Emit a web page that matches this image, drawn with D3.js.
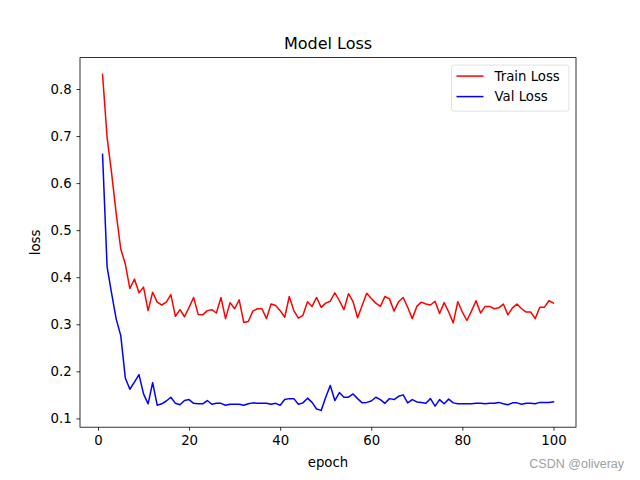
<!DOCTYPE html>
<html>
<head>
<meta charset="utf-8">
<script src="https://cdn.jsdelivr.net/npm/d3@7"></script>
<style>
  body { margin: 0; background: #fff; }
  text { font-family: "DejaVu Sans", sans-serif; }
</style>
</head>
<body>
<svg id="chart" width="640" height="480"></svg>
<script>
const trainLoss = [
  0.831, 0.697, 0.620, 0.535, 0.460, 0.428, 0.376, 0.396, 0.367, 0.379,
  0.329, 0.368, 0.347, 0.341, 0.347, 0.363, 0.317, 0.331, 0.316, 0.336,
  0.357, 0.321, 0.320, 0.329, 0.331, 0.324, 0.357, 0.312, 0.346, 0.333,
  0.352, 0.304, 0.306, 0.328, 0.333, 0.333, 0.312, 0.343, 0.340, 0.329,
  0.315, 0.359, 0.329, 0.313, 0.319, 0.348, 0.338, 0.357, 0.336, 0.345,
  0.349, 0.367, 0.350, 0.331, 0.365, 0.348, 0.314, 0.340, 0.366, 0.355,
  0.345, 0.338, 0.359, 0.354, 0.328, 0.348, 0.357, 0.336, 0.312, 0.338,
  0.347, 0.343, 0.341, 0.349, 0.323, 0.346, 0.326, 0.303, 0.348, 0.326,
  0.308, 0.328, 0.350, 0.324, 0.338, 0.338, 0.333, 0.335, 0.343, 0.320,
  0.335, 0.343, 0.333, 0.326, 0.326, 0.312, 0.336, 0.336, 0.350, 0.345
];
const valLoss = [
  0.661, 0.422, 0.365, 0.311, 0.276, 0.186, 0.162, 0.177, 0.193, 0.152,
  0.131, 0.176, 0.128, 0.131, 0.137, 0.145, 0.132, 0.129, 0.138, 0.140,
  0.132, 0.131, 0.131, 0.138, 0.130, 0.132, 0.132, 0.128, 0.130, 0.130,
  0.130, 0.128, 0.131, 0.133, 0.132, 0.132, 0.132, 0.130, 0.132, 0.128,
  0.140, 0.142, 0.142, 0.130, 0.133, 0.143, 0.134, 0.120, 0.117, 0.145,
  0.170, 0.138, 0.155, 0.145, 0.145, 0.152, 0.142, 0.133, 0.134, 0.137,
  0.145, 0.140, 0.132, 0.142, 0.140, 0.147, 0.150, 0.133, 0.140, 0.135,
  0.134, 0.132, 0.142, 0.126, 0.140, 0.131, 0.141, 0.133, 0.131, 0.131,
  0.131, 0.131, 0.132, 0.132, 0.131, 0.132, 0.132, 0.134, 0.131, 0.129,
  0.133, 0.133, 0.130, 0.132, 0.132, 0.131, 0.134, 0.134, 0.134, 0.135
];
const epochs = d3.range(1, trainLoss.length + 1);
const xTicks = [0, 20, 40, 60, 80, 100];
const yTicks = [0.1, 0.2, 0.3, 0.4, 0.5, 0.6, 0.7, 0.8];
const seriesNames = ["Train Loss", "Val Loss"];
const seriesColors = ["#ff0000", "#0000ff"];

const svg = d3.select("#chart"),
  width = +svg.attr("width"),
  height = +svg.attr("height");

const margin = { top: 57.6, right: 64, bottom: 52.8, left: 80 },
  innerWidth = width - margin.left - margin.right,
  innerHeight = height - margin.top - margin.bottom;

const g = svg.append("g")
  .attr("transform", `translate(${margin.left},${margin.top})`);

// matplotlib-style 5% padding on both axes
const xExt = d3.extent(epochs), xPad = (xExt[1] - xExt[0]) * 0.05;
const allVals = trainLoss.concat(valLoss);
const yExt = d3.extent(allVals), yPad = (yExt[1] - yExt[0]) * 0.05;

const x = d3.scaleLinear()
  .domain([xExt[0] - xPad, xExt[1] + xPad])
  .range([0, innerWidth]);

const y = d3.scaleLinear()
  .domain([yExt[0] - yPad, yExt[1] + yPad])
  .range([innerHeight, 0]);

const xAxis = g.append("g")
  .attr("transform", `translate(0,${innerHeight})`)
  .call(d3.axisBottom(x).tickValues(xTicks).tickFormat(d3.format("d")).tickSize(3.5).tickPadding(4.9));

const yAxis = g.append("g")
  .call(d3.axisLeft(y).tickValues(yTicks).tickFormat(d3.format(".1f")).tickSize(3.5).tickPadding(4.9));

[xAxis, yAxis].forEach(a => {
  a.attr("font-size", null).attr("font-family", null);
  a.select(".domain").remove();
  a.selectAll(".tick line").attr("stroke", "#000").attr("stroke-width", 0.8);
  a.selectAll(".tick text").attr("fill", "#000").style("font-size", "13.3px");
});

const line = d3.line()
  .x((d, i) => x(epochs[i]))
  .y(d => y(d));

[trainLoss, valLoss].forEach((s, i) => {
  g.append("path")
    .datum(s)
    .attr("fill", "none")
    .attr("stroke", seriesColors[i])
    .attr("stroke-width", 1.5)
    .attr("stroke-linejoin", "round")
    .attr("stroke-linecap", "square")
    .attr("d", line);
});

// frame
g.append("rect")
  .attr("width", innerWidth)
  .attr("height", innerHeight)
  .attr("fill", "none")
  .attr("stroke", "#000")
  .attr("stroke-width", 0.8);

// title and axis labels
g.append("text")
  .attr("x", innerWidth / 2)
  .attr("y", -9)
  .attr("text-anchor", "middle")
  .style("font-size", "16px")
  .text("Model Loss");

g.append("text")
  .attr("x", innerWidth / 2)
  .attr("y", innerHeight + 40)
  .attr("text-anchor", "middle")
  .style("font-size", "13.3px")
  .text("epoch");

g.append("text")
  .attr("transform", `translate(-40,${innerHeight / 2}) rotate(-90)`)
  .attr("text-anchor", "middle")
  .style("font-size", "13.3px")
  .text("loss");

// legend
const legend = g.append("g")
  .attr("transform", `translate(${innerWidth - 124.5},7.5)`);

legend.append("rect")
  .attr("width", 117.5)
  .attr("height", 46)
  .attr("rx", 2.5)
  .attr("fill", "#fff")
  .attr("fill-opacity", 0.8)
  .attr("stroke", "#d9d9d9")
  .attr("stroke-width", 0.8);

seriesNames.forEach((name, i) => {
  const row = legend.append("g")
    .attr("transform", `translate(0,${11 + i * 20.5})`);
  row.append("line")
    .attr("x1", 5).attr("x2", 32)
    .attr("stroke", seriesColors[i])
    .attr("stroke-width", 1.5);
  row.append("text")
    .attr("x", 43)
    .attr("dy", "0.35em")
    .style("font-size", "13.3px")
    .text(name);
});

// watermark
svg.append("text")
  .attr("x", 624)
  .attr("y", 468)
  .attr("text-anchor", "end")
  .attr("fill", "#a0a0a0")
  .style("font-family", "Liberation Sans, Arial, sans-serif")
  .style("font-size", "12.5px")
  .text("CSDN @oliveray");
</script>
</body>
</html>
